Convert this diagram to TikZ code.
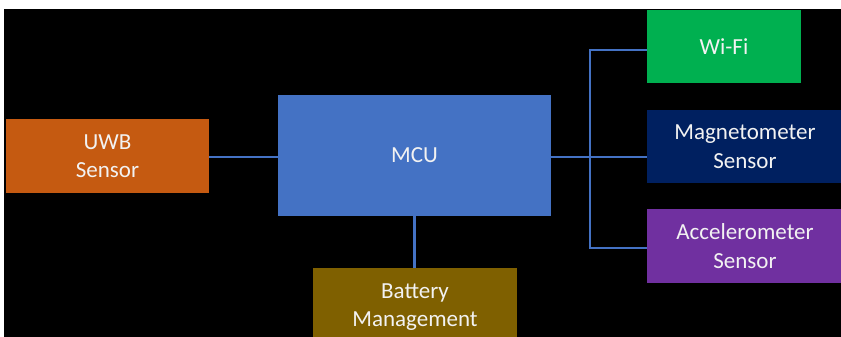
\documentclass[tikz,border=0pt]{standalone}
\usepackage{fontspec}
\setmainfont{Carlito}
\definecolor{cOrange}{HTML}{C55A11}
\definecolor{cBlue}{HTML}{4472C4}
\definecolor{cGold}{HTML}{7F6000}
\definecolor{cGreen}{HTML}{00B050}
\definecolor{cNavy}{HTML}{002060}
\definecolor{cPurple}{HTML}{7030A0}
\definecolor{cText}{HTML}{F2F2F2}
\begin{document}
\begin{tikzpicture}[x=1pt,y=-1pt,
  blk/.style={rectangle, inner sep=0pt, text=cText, align=center,
    font=\fontsize{23}{28.5}\selectfont},
  wire/.style={draw=cBlue, line width=2.2pt}]
\useasboundingbox (0,0) rectangle (841,337);
\clip (0,0) rectangle (841,337);
\fill[white] (0,0) rectangle (841,337);
\fill[black] (4,9) rectangle (841,337);
\node[blk, fill=cOrange, minimum width=203pt, minimum height=74pt] (uwb) at (107.5,156) {UWB\\Sensor};
\node[blk, fill=cBlue, minimum width=273pt, minimum height=121pt] (mcu) at (414.5,155.5) {MCU};
\node[blk, fill=cGold, minimum width=204pt, minimum height=78pt] (bat) at (415,307) {Battery\\Management};
\node[blk, fill=cGreen, minimum width=154pt, minimum height=73pt] (wifi) at (724,46.5) {Wi-Fi};
\node[blk, fill=cNavy, minimum width=196pt, minimum height=73pt] (mag) at (745,146.5) {Magnetometer\\Sensor};
\node[blk, fill=cPurple, minimum width=196pt, minimum height=74pt] (acc) at (745,246) {Accelerometer\\Sensor};
\coordinate (bm) at (590,157);
\coordinate (bt) at (590,50);
\coordinate (bb) at (590,248);
\draw[wire] (uwb.east |- bm) -- (mcu.west |- bm);
\draw[wire] (mcu.east |- bm) -- (mag.west |- bm);
\draw[wire] (wifi.west |- bt) -- (bt) -- (bb) -- (acc.west |- bb);
\draw[wire] (mcu.south) -- (bat.north -| mcu.south);
\end{tikzpicture}
\end{document}
